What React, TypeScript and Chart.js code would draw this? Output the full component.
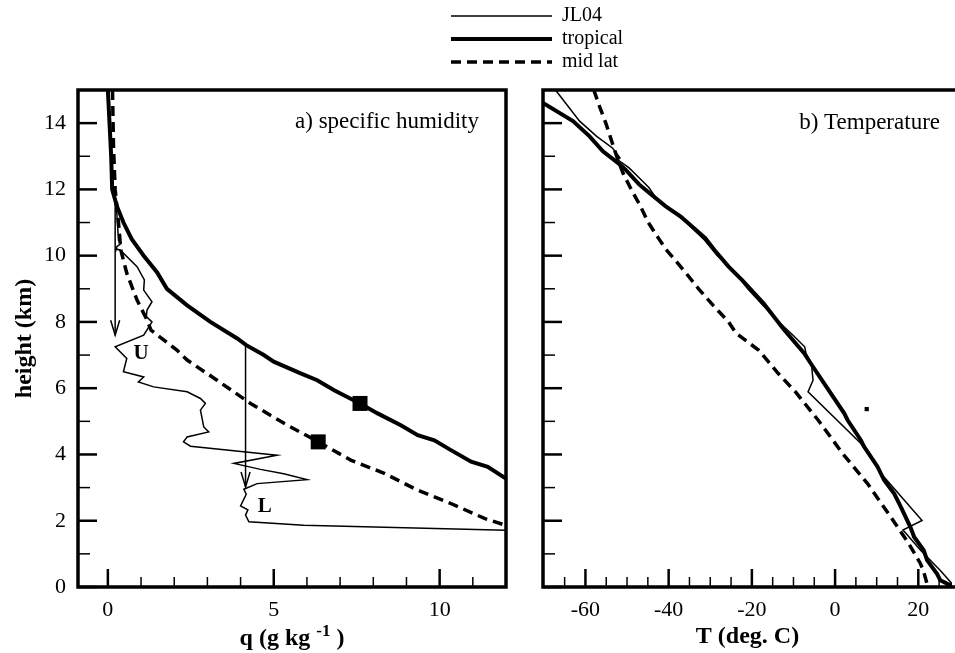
import React, { useEffect, useRef } from "react";
import { Chart, registerables } from "chart.js";

Chart.register(...registerables);

const SERIF = '"Liberation Serif", "Times New Roman", Times, serif';

// ---------------- panel a) specific humidity : [height (km), q (g/kg)] ----------------
const qJL04: [number, number][] = [
  [15, 0.02], [13.5, 0.06], [12.5, 0.12], [11.8, 0.2], [11.28, 0.27], [10.47, 0.32],
  [10.37, 0.4], [10.27, 0.27], [10.2, 0.25], [10.17, 0.37], [9.67, 0.88], [9.27, 1.1],
  [8.96, 1.08], [8.61, 1.33], [8.36, 1.18], [8.16, 1.16], [8.0, 1.33], [7.6, 1.08],
  [7.25, 0.22], [6.9, 0.57], [6.5, 0.47], [6.34, 1.08], [6.19, 0.92], [6.04, 1.38],
  [5.89, 2.39], [5.69, 2.79], [5.54, 2.94], [5.34, 2.79], [5.09, 2.84], [4.83, 2.89],
  [4.68, 3.04], [4.53, 2.39], [4.38, 2.28], [4.25, 2.49], [3.98, 5.1], [3.73, 3.8],
  [3.55, 4.6], [3.42, 5.3], [3.24, 6.0], [3.12, 4.5], [2.95, 4.1], [2.8, 4.17],
  [2.45, 4.0], [2.33, 4.22], [2.17, 4.15], [1.97, 4.25], [1.86, 5.9], [1.71, 12.0],
];
const qTropical: [number, number][] = [
  [15, 0.0], [14, 0.05], [13, 0.1], [12, 0.13], [11.5, 0.27], [11, 0.47], [10.5, 0.72],
  [10, 1.08], [9.5, 1.48], [9, 1.78], [8.5, 2.39], [8, 3.09], [7.5, 3.9], [7.3, 4.17],
  [7, 4.7], [6.8, 5.0], [6.45, 5.81], [6.24, 6.31], [5.94, 6.82], [5.54, 7.6], [5.24, 8.13],
  [4.88, 8.83], [4.58, 9.34], [4.43, 9.84], [4.13, 10.34], [3.78, 10.95], [3.63, 11.45],
  [3.27, 12.0],
];
const qMidLat: [number, number][] = [
  [15, 0.14], [13.3, 0.17], [12, 0.22], [11, 0.32], [10.17, 0.39], [9.47, 0.57],
  [8.66, 0.88], [8.06, 1.18], [7.75, 1.3], [7.15, 2.08], [6.85, 2.39], [6.24, 3.29],
  [5.54, 4.3], [4.94, 5.31], [4.38, 6.34], [3.83, 7.32], [3.43, 8.33], [2.92, 9.34],
  [2.52, 10.34], [2.07, 11.35], [1.86, 12.0],
];
const qTropicalMarker: [number, number][] = [[5.54, 7.6]];
const qMidLatMarker: [number, number][] = [[4.38, 6.34]];

// ---------------- panel b) temperature : [height (km), T (deg C)] ----------------
const tJL04: [number, number][] = [
  [15, -67.2], [14.06, -61.4], [13.6, -57.3], [13.25, -53.5], [12.95, -51.7],
  [12.9, -52.3], [12.65, -49.5], [12.35, -47.1], [12.05, -44.7], [11.75, -43.1],
  [11.5, -40.7], [11.0, -35.8], [10.5, -31.6], [10.0, -28.3], [9.5, -24.0], [9.0, -21.0],
  [8.5, -17.3], [8.0, -13.5], [7.6, -10.1], [7.25, -7.3], [7.05, -7.0], [6.75, -5.7],
  [6.24, -5.3], [5.89, -6.5], [4.33, 6.2], [3.4, 11.2], [2.01, 20.9], [1.72, 16.3],
  [1.65, 16.8], [1.1, 20.6], [0.5, 25.3], [0.1, 28.1], [0, 28.8],
];
const tTropical: [number, number][] = [
  [14.8, -71.5], [14.6, -70.1], [14.06, -63], [13.6, -59], [13.15, -55.8], [12.77, -51.9],
  [12.59, -50.3], [12.15, -47.1], [11.98, -45.5], [11.49, -40.7], [11.18, -37.1],
  [10.53, -31.2], [10.17, -29], [9.67, -25.6], [9.27, -22.4], [8.56, -17.2], [7.8, -12.5],
  [7.05, -7.4], [6.7, -5.6], [6.14, -2.6], [5.24, 2.2], [5.04, 3.0], [4.43, 6.2],
  [4.23, 7.0], [3.63, 10.2], [3.22, 11.8], [2.82, 14.2], [2.42, 15.8], [1.81, 18.1],
  [1.51, 19.0], [1.11, 21.3], [0.81, 22.1], [0.4, 24.5], [0.2, 25.3], [0.05, 27.7],
  [0, 28.5],
];
const tMidLat: [number, number][] = [
  [15, -58.0], [14.5, -56.6], [14.0, -55.1], [13.5, -53.8], [13.0, -52.5], [12.5, -51.0],
  [12.0, -49.0], [11.5, -46.8], [11.0, -44.9], [10.5, -42.3], [10.2, -40.7], [9.5, -36.0],
  [9.0, -32.8], [8.5, -29.3], [8.0, -25.6], [7.66, -23.8], [7.15, -18.4], [7.05, -17.7],
  [6.45, -13.7], [5.9, -9.6], [5.04, -4.1], [4.94, -3.5], [4.03, 1.8], [3.12, 7.8],
  [2.11, 13.4], [1.31, 17.7], [0.71, 20.5], [0.5, 21.2], [0.1, 22.1], [0, 22.3],
];
const tMarker: [number, number][] = [[5.37, 7.6]];

// ---------------- axes ----------------
const heightLabels = [0, 2, 4, 6, 8, 10, 12, 14];
const heightMinor = [1, 3, 5, 7, 9, 11, 13];
const qLabels = [0, 5, 10];
const qMinor = [1, 2, 3, 4, 6, 7, 8, 9, 11];
const tLabels = [-60, -40, -20, 0, 20];
const tMinor = [-65, -55, -50, -45, -35, -30, -25, -15, -10, -5, 5, 10, 15, 25];

const seriesNames = ["JL04", "tropical", "mid lat"];

// ---------------- annotations (data coordinates) ----------------
const qArrows = [
  { q: 0.22, from: 11.6, to: 7.6 },
  { q: 4.15, from: 7.3, to: 3.02 },
];
const qRegimes = [
  { text: "U", q: 1.0, h: 7.06 },
  { text: "L", q: 4.73, h: 2.42 },
];

const STYLES = [
  { borderWidth: 1.5, borderDash: [] as number[] },
  { borderWidth: 4, borderDash: [] as number[] },
  { borderWidth: 3.5, borderDash: [10, 6] },
];

const toXY = (pairs: [number, number][]) => pairs.map(([h, v]) => ({ x: v, y: h }));

function lineDataset(i: number, pairs: [number, number][]) {
  return {
    label: seriesNames[i],
    data: toXY(pairs),
    showLine: true,
    pointRadius: 0,
    pointHoverRadius: 0,
    borderColor: "#000",
    backgroundColor: "#000",
    borderWidth: STYLES[i].borderWidth,
    borderDash: STYLES[i].borderDash,
    fill: false,
  };
}

function markerDataset(pairs: [number, number][], radius: number) {
  return {
    label: "marker",
    data: toXY(pairs),
    showLine: false,
    pointStyle: "rect",
    pointRadius: radius,
    pointHoverRadius: radius,
    backgroundColor: "#000",
    borderColor: "#000",
    borderWidth: 0,
  };
}

function drawSeg(ctx: CanvasRenderingContext2D, x0: number, y0: number, x1: number, y1: number, w: number) {
  ctx.lineWidth = w;
  ctx.beginPath();
  ctx.moveTo(x0, y0);
  ctx.lineTo(x1, y1);
  ctx.stroke();
}

function panelPlugin(cfg: {
  xMajor: number[];
  xMinor: number[];
  openRight: boolean;
  label: string;
  labelDx: number;
  labelDy: number;
  extra?: (chart: any) => void;
}) {
  return {
    id: "panelDecor",
    afterDatasetsDraw(chart: any) {
      const { ctx, chartArea: a, scales } = chart;
      const xs = scales.x;
      const ys = scales.y;
      ctx.save();
      ctx.strokeStyle = "#000";
      ctx.fillStyle = "#000";
      ctx.lineCap = "butt";
      // inward ticks
      heightLabels.forEach((v) => {
        const p = ys.getPixelForValue(v);
        drawSeg(ctx, a.left, p, a.left + 19, p, 2.5);
      });
      heightMinor.forEach((v) => {
        const p = ys.getPixelForValue(v);
        drawSeg(ctx, a.left, p, a.left + 12, p, 1.5);
      });
      cfg.xMajor.forEach((v) => {
        const p = xs.getPixelForValue(v);
        drawSeg(ctx, p, a.bottom, p, a.bottom - 18, 2.5);
      });
      cfg.xMinor.forEach((v) => {
        const p = xs.getPixelForValue(v);
        drawSeg(ctx, p, a.bottom, p, a.bottom - 10, 1.5);
      });
      // frame
      ctx.lineWidth = 3.5;
      ctx.lineJoin = "miter";
      ctx.beginPath();
      if (cfg.openRight) {
        ctx.moveTo(a.right + 4, a.top);
        ctx.lineTo(a.left, a.top);
        ctx.lineTo(a.left, a.bottom);
        ctx.lineTo(a.right + 4, a.bottom);
      } else {
        ctx.rect(a.left, a.top, a.right - a.left, a.bottom - a.top);
      }
      ctx.stroke();
      // panel label
      ctx.font = `23px ${SERIF}`;
      ctx.textAlign = "right";
      ctx.textBaseline = "alphabetic";
      ctx.fillText(cfg.label, a.right - cfg.labelDx, a.top + cfg.labelDy);
      if (cfg.extra) cfg.extra(chart);
      ctx.restore();
    },
  };
}

function humidityExtras(chart: any) {
  const { ctx, chartArea: a, scales } = chart;
  const xs = scales.x;
  const ys = scales.y;
  ctx.strokeStyle = "#000";
  ctx.fillStyle = "#000";
  qArrows.forEach((ar) => {
    const px = xs.getPixelForValue(ar.q);
    const p0 = ys.getPixelForValue(ar.from);
    const p1 = ys.getPixelForValue(ar.to);
    drawSeg(ctx, px, p0, px, p1, 1.5);
    ctx.lineWidth = 1.5;
    ctx.beginPath();
    ctx.moveTo(px - 4.5, p1 - 15);
    ctx.lineTo(px, p1);
    ctx.lineTo(px + 4.5, p1 - 15);
    ctx.stroke();
  });
  ctx.font = `bold 21px ${SERIF}`;
  ctx.textAlign = "center";
  ctx.textBaseline = "middle";
  qRegimes.forEach((r) => {
    ctx.fillText(r.text, xs.getPixelForValue(r.q), ys.getPixelForValue(r.h));
  });
  // x axis title with superscript
  const main = `bold 24px ${SERIF}`;
  const sup = `bold 17px ${SERIF}`;
  const p1 = "q (g kg ";
  const p2 = "-1";
  const p3 = " )";
  ctx.font = main;
  const w1 = ctx.measureText(p1).width;
  const w3 = ctx.measureText(p3).width;
  ctx.font = sup;
  const w2 = ctx.measureText(p2).width;
  const x0 = (a.left + a.right) / 2 - (w1 + w2 + w3) / 2;
  const base = a.bottom + 58;
  ctx.textAlign = "left";
  ctx.textBaseline = "alphabetic";
  ctx.font = main;
  ctx.fillText(p1, x0, base);
  ctx.font = sup;
  ctx.fillText(p2, x0 + w1, base - 9);
  ctx.font = main;
  ctx.fillText(p3, x0 + w1 + w2, base);
}

const tickFont = { family: SERIF, size: 22 };

function fixedTicks(values: number[]) {
  return (scale: any) => {
    scale.ticks = values.map((v) => ({ value: v }));
  };
}

function buildHumidityConfig(): any {
  return {
    type: "scatter",
    data: {
      datasets: [
        markerDataset(qTropicalMarker, 10.6),
        markerDataset(qMidLatMarker, 10.6),
        lineDataset(0, qJL04),
        lineDataset(1, qTropical),
        lineDataset(2, qMidLat),
      ],
    },
    options: {
      responsive: false,
      animation: false,
      events: [],
      layout: { padding: { left: 0, top: 90, right: 14, bottom: 0 } },
      plugins: { legend: { display: false }, tooltip: { enabled: false } },
      scales: {
        x: {
          type: "linear",
          min: -0.9,
          max: 12,
          grid: { display: false, drawTicks: false },
          border: { display: false },
          afterBuildTicks: fixedTicks(qLabels),
          afterFit: (s: any) => {
            s.height = 66;
          },
          ticks: {
            autoSkip: false,
            maxRotation: 0,
            padding: 10,
            color: "#000",
            font: tickFont,
            callback: (v: any) => String(v),
          },
        },
        y: {
          type: "linear",
          min: 0,
          max: 15,
          grid: { display: false, drawTicks: false },
          border: { display: false },
          afterBuildTicks: fixedTicks(heightLabels),
          afterFit: (s: any) => {
            s.width = 78;
          },
          ticks: {
            autoSkip: false,
            padding: 12,
            color: "#000",
            font: tickFont,
            callback: (v: any) => String(v),
          },
          title: {
            display: true,
            text: "height (km)",
            color: "#000",
            font: { family: SERIF, size: 24, weight: "bold" },
            padding: { top: 10.5, bottom: 0 },
          },
        },
      },
    },
    plugins: [
      panelPlugin({
        xMajor: qLabels,
        xMinor: qMinor,
        openRight: false,
        label: "a) specific humidity",
        labelDx: 27,
        labelDy: 38,
        extra: humidityExtras,
      }),
    ],
  };
}

function buildTemperatureConfig(): any {
  return {
    type: "scatter",
    data: {
      datasets: [
        markerDataset(tMarker, 3),
        lineDataset(0, tJL04),
        lineDataset(1, tTropical),
        lineDataset(2, tMidLat),
      ],
    },
    options: {
      responsive: false,
      animation: false,
      events: [],
      layout: { padding: { left: 0, top: 90, right: 0, bottom: 0 } },
      plugins: { legend: { display: false }, tooltip: { enabled: false } },
      scales: {
        x: {
          type: "linear",
          min: -70.2,
          max: 28.1,
          grid: { display: false, drawTicks: false },
          border: { display: false },
          afterBuildTicks: fixedTicks(tLabels),
          afterFit: (s: any) => {
            s.height = 66;
          },
          ticks: {
            autoSkip: false,
            maxRotation: 0,
            padding: 10,
            color: "#000",
            font: tickFont,
            callback: (v: any) => String(v),
          },
          title: {
            display: true,
            text: "T (deg. C)",
            color: "#000",
            font: { family: SERIF, size: 24, weight: "bold" },
            padding: { top: 0, bottom: 1.7 },
          },
        },
        y: {
          type: "linear",
          min: 0,
          max: 15,
          grid: { display: false, drawTicks: false },
          border: { display: false },
          afterBuildTicks: fixedTicks(heightLabels),
          afterFit: (s: any) => {
            s.width = 13;
          },
          ticks: { display: false },
        },
      },
    },
    plugins: [
      panelPlugin({
        xMajor: tLabels,
        xMinor: tMinor,
        openRight: true,
        label: "b) Temperature",
        labelDx: 12,
        labelDy: 39,
      }),
    ],
  };
}

function buildLegendConfig(): any {
  return {
    type: "scatter",
    data: {
      datasets: seriesNames.map((name, i) => ({
        label: name,
        data: [],
        showLine: true,
        borderColor: "#000",
        backgroundColor: "#000",
        borderWidth: STYLES[i].borderWidth,
        borderDash: STYLES[i].borderDash,
      })),
    },
    options: {
      responsive: false,
      animation: false,
      events: [],
      layout: { padding: { left: 0, top: 3, right: 0, bottom: 0 } },
      scales: { x: { display: false }, y: { display: false } },
      plugins: {
        tooltip: { enabled: false },
        legend: {
          display: true,
          position: "top",
          align: "start",
          maxHeight: 200,
          labels: {
            // 101px keeps the dash pattern identical on the zero-height box's return stroke
            boxWidth: 101,
            boxHeight: 0,
            padding: 3,
            color: "#000",
            font: { family: SERIF, size: 20 },
          },
        },
      },
    },
  };
}

export default function App() {
  const aRef = useRef<HTMLCanvasElement>(null);
  const bRef = useRef<HTMLCanvasElement>(null);
  const lRef = useRef<HTMLCanvasElement>(null);

  useEffect(() => {
    const charts = [
      new Chart(aRef.current as HTMLCanvasElement, buildHumidityConfig()),
      new Chart(bRef.current as HTMLCanvasElement, buildTemperatureConfig()),
      new Chart(lRef.current as HTMLCanvasElement, buildLegendConfig()),
    ];
    return () => charts.forEach((c) => c.destroy());
  }, []);

  return (
    <div
      style={{
        position: "fixed",
        left: 0,
        top: 0,
        width: 955,
        height: 653,
        overflow: "hidden",
        background: "#fff",
      }}
    >
      <canvas
        ref={aRef}
        width={520}
        height={653}
        style={{ position: "absolute", left: 0, top: 0, width: 520, height: 653 }}
      />
      <canvas
        ref={bRef}
        width={425}
        height={653}
        style={{ position: "absolute", left: 530, top: 0, width: 425, height: 653 }}
      />
      <canvas
        ref={lRef}
        width={200}
        height={240}
        style={{ position: "absolute", left: 448, top: 0, width: 200, height: 240 }}
      />
    </div>
  );
}
